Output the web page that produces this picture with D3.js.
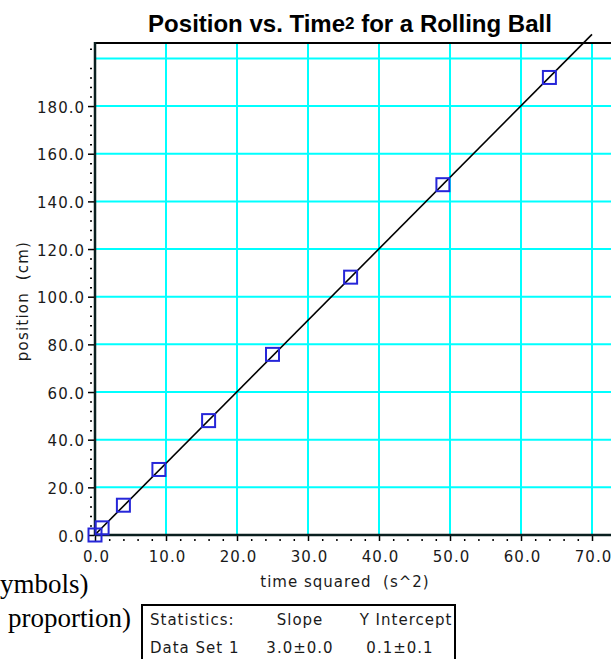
<!DOCTYPE html>
<html>
<head>
<meta charset="utf-8">
<script src="https://cdn.jsdelivr.net/npm/d3@7"></script>
<style>
  body { margin: 0; background: #fff; overflow: hidden; }
  svg { display: block; }
</style>
</head>
<body>
<div id="chart"></div>
<script>
// data
const timeSquared = [0, 1, 4, 9, 16, 25, 36, 49, 64];
const position = [0, 3, 12.5, 27.5, 48, 75.8, 108.2, 147, 192];
const fitSlope = 3.0;
const fitIntercept = 0.1;
const fitRange = [0, 70];
const xTicks = [0, 10, 20, 30, 40, 50, 60, 70];
const yTicks = [0, 20, 40, 60, 80, 100, 120, 140, 160, 180];
const yGrid = [20, 40, 60, 80, 100, 120, 140, 160, 180, 200];
const statsHeader = ['Statistics:', 'Slope', 'Y Intercept'];
const statsRow = ['Data Set 1', '3.0±0.0', '0.1±0.1'];
const sideNotes = ['ymbols)', 'proportion)'];

const W = 611, H = 659;
const plot = { left: 95, top: 43, bottom: 535 };

const svg = d3.select('#chart').append('svg')
    .attr('width', W)
    .attr('height', H);

const x = d3.scaleLinear().domain([0, 70]).range([plot.left, 592]);
const y = d3.scaleLinear().domain([0, 200]).range([plot.bottom, 58.4]);

const tickFont = 'DejaVu Sans, Verdana, sans-serif';

// grid
svg.append('g').selectAll('line')
    .data(xTicks.filter(d => d > 0))
    .join('line')
        .attr('x1', d => x(d)).attr('x2', d => x(d))
        .attr('y1', plot.top).attr('y2', plot.bottom)
        .attr('stroke', '#00ffff')
        .attr('stroke-width', 2);

svg.append('g').selectAll('line')
    .data(yGrid)
    .join('line')
        .attr('x1', plot.left).attr('x2', W)
        .attr('y1', d => y(d)).attr('y2', d => y(d))
        .attr('stroke', '#00ffff')
        .attr('stroke-width', 2);

// frame (top)
svg.append('line')
    .attr('x1', plot.left - 1).attr('x2', W)
    .attr('y1', plot.top).attr('y2', plot.top)
    .attr('stroke', '#000').attr('stroke-width', 2);

// axes
const xAxis = svg.append('g')
    .attr('transform', `translate(0,${plot.bottom})`)
    .call(d3.axisBottom(x).tickValues(xTicks).tickSize(6).tickFormat(d3.format('.1f')));
const xMinor = svg.append('g')
    .attr('transform', `translate(0,${plot.bottom + 4})`)
    .call(d3.axisBottom(x).tickValues(d3.range(0, 71, 2).filter(d => d % 10)).tickSize(2).tickFormat(''));

const yAxis = svg.append('g')
    .attr('transform', `translate(${plot.left - 1},0)`)
    .call(d3.axisLeft(y).tickValues(yTicks).tickSize(6).tickFormat(d3.format('.1f')));
const yMinor = svg.append('g')
    .attr('transform', `translate(${plot.left - 3},0)`)
    .call(d3.axisLeft(y).tickValues(d3.range(0, 205, 4).filter(d => d % 20)).tickSize(2).tickFormat(''));

[xAxis, yAxis, xMinor, yMinor].forEach(g => {
    g.select('.domain').remove();
    g.selectAll('.tick line').attr('stroke', '#000').attr('stroke-width', 1.5);
    g.selectAll('text')
        .attr('fill', '#1a1a1a')
        .attr('font-family', tickFont)
        .attr('font-size', '15px')
        .attr('letter-spacing', '1px');
});
xAxis.selectAll('text').attr('y', 27).attr('dy', 0).attr('dx', '1px');
yAxis.selectAll('text').attr('x', -9).attr('dy', '0.4em');

svg.append('line')
    .attr('x1', plot.left).attr('x2', W)
    .attr('y1', plot.bottom).attr('y2', plot.bottom)
    .attr('stroke', '#0a1f1f').attr('stroke-width', 2.5);
svg.append('line')
    .attr('x1', plot.left).attr('x2', plot.left)
    .attr('y1', plot.top - 1).attr('y2', plot.bottom + 1)
    .attr('stroke', '#0a1f1f').attr('stroke-width', 2.5);

// fit line
svg.append('line')
    .attr('x1', x(fitRange[0])).attr('y1', y(fitIntercept + fitSlope * fitRange[0]))
    .attr('x2', x(fitRange[1])).attr('y2', y(fitIntercept + fitSlope * fitRange[1]))
    .attr('stroke', '#000')
    .attr('stroke-width', 1.6);

// data points
const pts = timeSquared.map((t, i) => ({ t, p: position[i] }));
svg.append('g').selectAll('rect')
    .data(pts)
    .join('rect')
        .attr('x', d => x(d.t) - 6.5)
        .attr('y', d => y(d.p) - 6.5)
        .attr('width', 13)
        .attr('height', 13)
        .attr('fill', 'none')
        .attr('stroke', '#2626d9')
        .attr('stroke-width', 2);

// title
const title = svg.append('text')
    .attr('x', 350)
    .attr('y', 32)
    .attr('text-anchor', 'middle')
    .attr('font-family', 'Liberation Sans, Arial, sans-serif')
    .attr('font-weight', 'bold')
    .attr('font-size', '24px')
    .attr('fill', '#000');
title.append('tspan').text('Position vs. Time');
title.append('tspan').attr('font-size', '17px').attr('dy', '-3').text('2');
title.append('tspan').attr('dy', '3').text(' for a Rolling Ball');

// axis titles
svg.append('text')
    .attr('transform', 'translate(28,301) rotate(-90)')
    .attr('text-anchor', 'middle')
    .attr('font-family', tickFont)
    .attr('font-size', '15px')
    .attr('letter-spacing', '1.2px')
    .attr('fill', '#1a1a1a')
    .attr('xml:space', 'preserve')
    .text('position  (cm)');

svg.append('text')
    .attr('x', 345)
    .attr('y', 587)
    .attr('text-anchor', 'middle')
    .attr('font-family', tickFont)
    .attr('font-size', '15px')
    .attr('letter-spacing', '1px')
    .attr('fill', '#1a1a1a')
    .attr('xml:space', 'preserve')
    .text('time squared  (s^2)');

// cut-off notes on the left
svg.append('g').selectAll('text')
    .data(sideNotes)
    .join('text')
        .attr('x', (d, i) => i === 0 ? 0 : 8)
        .attr('y', (d, i) => i === 0 ? 593 : 627)
        .attr('font-family', 'Liberation Serif, Times New Roman, serif')
        .attr('font-size', '27px')
        .attr('fill', '#000')
        .text(d => d);

// statistics box
svg.append('rect')
    .attr('x', 142).attr('y', 605)
    .attr('width', 313).attr('height', 70)
    .attr('fill', '#fff')
    .attr('stroke', '#000')
    .attr('stroke-width', 2);

const colX = [[150, 300, 406], [150, 300, 400]];
const anchors = ['start', 'middle', 'middle'];
[statsHeader, statsRow].forEach((row, r) => {
    svg.append('g').selectAll('text')
        .data(row)
        .join('text')
            .attr('x', (d, i) => colX[r][i])
            .attr('y', 625 + r * 28)
            .attr('text-anchor', (d, i) => anchors[i])
            .attr('font-family', tickFont)
            .attr('font-size', '15px')
            .attr('letter-spacing', '1px')
            .attr('fill', '#1a1a1a')
            .text(d => d);
});
</script>
</body>
</html>
